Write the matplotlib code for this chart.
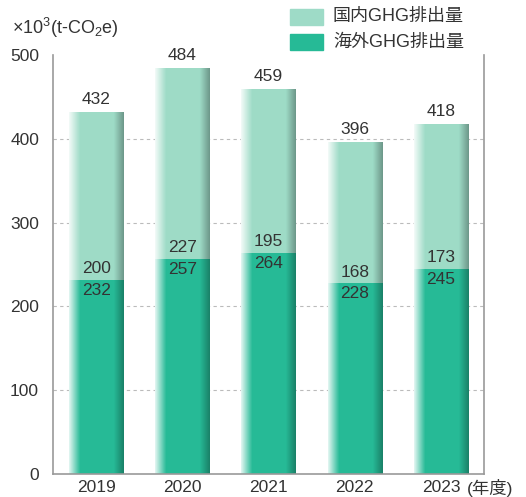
import matplotlib.pyplot as plt
import numpy as np

plt.rcParams['font.family'] = ['Liberation Sans', 'Noto Sans CJK JP', 'DejaVu Sans']
plt.rcParams['mathtext.fontset'] = 'custom'
plt.rcParams['mathtext.rm'] = 'Liberation Sans'

years = ['2019', '2020', '2021', '2022', '2023']
overseas = [232, 257, 264, 228, 245]
domestic = [200, 227, 195, 168, 173]
totals = [432, 484, 459, 396, 418]

dark = np.array([0.15, 0.73, 0.59])
light = np.array([0.62, 0.86, 0.78])
text_col = '#333333'


def shade(base, n=60):
    # horizontal gradient: white fade on the left, darker edge on the right
    t = np.linspace(0, 1, n)
    cols = np.tile(base, (n, 1))
    left = np.clip(t / 0.2, 0, 1)[:, None]
    cols = 1 - (1 - cols) * (0.15 + 0.85 * left)
    right = np.clip((t - 0.82) / 0.18, 0, 1)[:, None]
    cols = cols * (1 - 0.3 * right)
    return cols[None, :, :]


fig = plt.figure(figsize=(5.26, 4.97), dpi=100)
ax = fig.add_axes([53 / 526, 23 / 497, 431 / 526, 419 / 497])

w = 0.63
x = np.arange(len(years))
for i in x:
    x0, x1 = i - w / 2, i + w / 2
    ax.imshow(shade(dark), extent=[x0, x1, 0, overseas[i]], aspect='auto', zorder=2)
    ax.imshow(shade(light), extent=[x0, x1, overseas[i], totals[i]], aspect='auto', zorder=2)
    ax.text(i, totals[i] + 6, str(totals[i]), ha='center', va='bottom', fontsize=12.5, color=text_col)
    ax.text(i, overseas[i] + 4, str(domestic[i]), ha='center', va='bottom', fontsize=12.5, color=text_col)
    ax.text(i, overseas[i] - 4, str(overseas[i]), ha='center', va='top', fontsize=12.5, color=text_col)

ax.set_xlim(-0.5, 4.5)
ax.set_ylim(0, 500)
ax.set_yticks([0, 100, 200, 300, 400, 500])
ax.set_xticks(x)
ax.set_xticklabels(years)
ax.tick_params(length=0, labelsize=12.5, labelcolor=text_col)
ax.tick_params(axis='y', pad=10)
ax.tick_params(axis='x', pad=4)
for yv in [100, 200, 300, 400]:
    ax.axhline(yv, color='#bbbbbb', lw=0.8, ls=(0, (3, 3)), zorder=1)
ax.spines['top'].set_visible(False)
for s in ['left', 'right', 'bottom']:
    ax.spines[s].set_color('#999999')
    ax.spines[s].set_linewidth(1.2)

fig.text(12 / 526, 1 - 28 / 497, r'×10$^3$(t-CO$_2$e)', fontsize=13, color=text_col, va='center')
fig.text(467 / 526, 1 - 488 / 497, '(年度)', fontsize=12.5, color=text_col, va='center')

# legend
for yy, col, lab in [(17, light, '国内GHG排出量'), (42, dark, '海外GHG排出量')]:
    fig.patches.append(plt.Rectangle((290 / 526, 1 - (yy + 8) / 497), 33 / 526, 16 / 497,
                                     transform=fig.transFigure, color=col))
    fig.text(333 / 526, 1 - yy / 497, lab, fontsize=13, color=text_col, va='center')

fig.savefig('out.png', dpi=100)
